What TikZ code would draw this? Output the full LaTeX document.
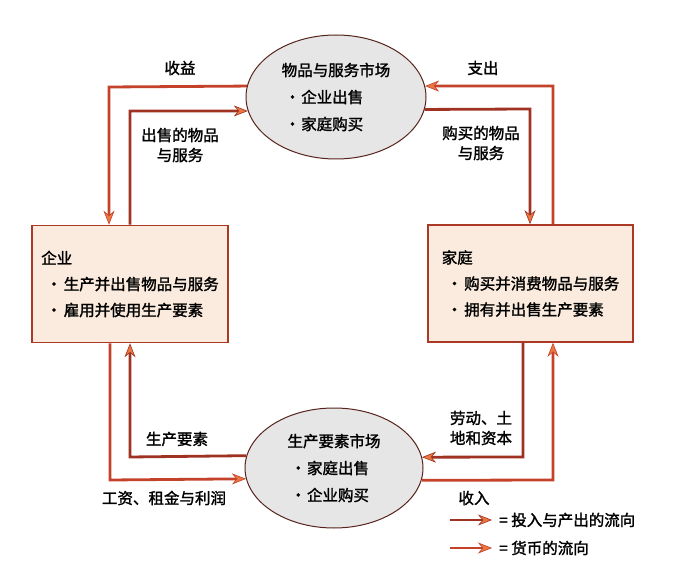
\documentclass[tikz,border=0pt]{standalone}
\usepackage{fontspec}
\setmainfont{Noto Sans CJK SC}[FakeBold=1.6]
\usepackage{tikz}
\usetikzlibrary{arrows.meta,positioning,shapes.geometric}
\definecolor{flowred}{RGB}{160,50,34}
\definecolor{cashred}{RGB}{196,66,42}
\definecolor{tiporange}{RGB}{234,118,66}
\definecolor{boxfill}{RGB}{250,235,222}
\definecolor{boxline}{RGB}{172,56,38}
\definecolor{ovalfill}{RGB}{230,230,230}
\definecolor{ovalline}{RGB}{88,36,28}

\begin{document}
\begin{tikzpicture}[x=1pt,y=-1pt,
  every node/.style={font=\fontsize{15.5}{20}\selectfont},
  agent/.style={draw=boxline,line width=1.6pt,fill=boxfill,minimum height=117pt,align=left,inner sep=0pt,font=\fontsize{15.5}{26}\selectfont},
  market/.style={ellipse,draw=ovalline,line width=1pt,fill=ovalfill,inner sep=0pt,align=left,font=\fontsize{15.5}{27}\selectfont},
  flow/.style={flowred,line width=2.8pt,-{Stealth[length=14pt,width=11pt,fill=tiporange,line width=0.6pt]}},
  cash/.style={flow,cashred},
  lbl/.style={align=center,inner sep=0pt}]
  \fill[white] (0,0) rectangle (675,585);
  \useasboundingbox (0,0) rectangle (675,585);
  \node[market,minimum width=180pt,minimum height=124pt] (gsm) at (336,97)
    {物品与服务市场\\\hspace{3pt}·\hspace{1pt}企业出售\\\hspace{3pt}·\hspace{1pt}家庭购买};
  \node[market,minimum width=178pt,minimum height=120pt] (fpm) at (334,468)
    {生产要素市场\\\hspace{3pt}·\hspace{1pt}家庭出售\\\hspace{3pt}·\hspace{1pt}企业购买};
  \node[agent,minimum width=196pt] (firm) at (130,284)
    {企业\\\hspace{5pt}·\hspace{2pt}生产并出售物品与服务\\\hspace{5pt}·\hspace{2pt}雇用并使用生产要素};
  \node[agent,minimum width=205pt] (home) at (530.5,283.5)
    {家庭\\\hspace{5pt}·\hspace{2pt}购买并消费物品与服务\\\hspace{5pt}·\hspace{2pt}拥有并出售生产要素};
  \coordinate (revc) at (109,87);
  \coordinate (soldc) at (130,111);
  \coordinate (spendc) at (553,86);
  \coordinate (boughtc) at (530,109);
  \coordinate (factc) at (130,457);
  \coordinate (wagec) at (110,480);
  \coordinate (labc) at (523,457);
  \coordinate (incc) at (553,480);
  \draw[cash] (gsm.173.6) -- (revc) -- (revc |- firm.north);
  \draw[flow] (soldc |- firm.north) -- (soldc) -- (gsm.189.1);
  \draw[cash] (spendc |- home.north) -- (spendc) -- (gsm.7.1);
  \draw[flow] (gsm.352.3) -- (boughtc) -- (boughtc |- home.north);
  \draw[flow] (fpm.172.8) -- (factc) -- (factc |- firm.south);
  \draw[cash] (wagec |- firm.south) -- (wagec) -- (fpm.187.8);
  \draw[flow] (labc |- home.south) -- (labc) -- (fpm.7.2);
  \draw[cash] (fpm.352.2) -- (incc) -- (incc |- home.south);
  \node[lbl] (revlbl) at (180,68) {收益};
  \node[lbl] (soldlbl) at (180,145) {出售的物品\\与服务};
  \node[lbl] (spendlbl) at (483,68) {支出};
  \node[lbl] (boughtlbl) at (481,143) {购买的物品\\与服务};
  \node[lbl] (factlbl) at (177,439) {生产要素};
  \node[lbl] (wagelbl) at (164,498) {工资、租金与利润};
  \node[lbl] (lablbl) at (481,428) {劳动、土\\地和资本};
  \node[lbl] (inclbl) at (474,498) {收入};
  \coordinate (keyfa) at (450,520);
  \coordinate (keyfb) at (492,520);
  \coordinate (keyca) at (450,548);
  \coordinate (keycb) at (492,548);
  \draw[flow] (keyfa) -- (keyfb);
  \draw[cash] (keyca) -- (keycb);
  \node[anchor=west,inner sep=0pt] (keyf) at (499,520) {= 投入与产出的流向};
  \node[anchor=west,inner sep=0pt] (keyc) at (499,548) {= 货币的流向};
\end{tikzpicture}
\end{document}
